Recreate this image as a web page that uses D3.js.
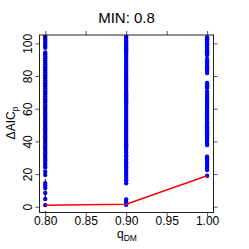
<!DOCTYPE html>
<html>
<head>
<meta charset="utf-8">
<script src="https://cdn.jsdelivr.net/npm/d3@7"></script>
<style>
  body { margin: 0; background: #fff; }
  svg text { font-family: "Liberation Sans", Arial, sans-serif; fill: #000; }
</style>
</head>
<body>
<div id="chart"></div>
<script>
// q_DM columns and the delta AIC values
const qValues = [0.80, 0.90, 1.00];

const aic080 = [1.0, 4.8, 8.4, 11.5, 13.0, 14.5, 19.5, 21.5, 24.0, 25.6, 26.8, 28.1, 29.3,
  30.6, 31.9, 33.0, 34.2, 35.5, 36.8, 38.0, 39.1, 40.4, 41.7, 42.9, 44.0, 45.3, 46.6, 47.8,
  49.0, 50.2, 51.5, 52.7, 53.9, 55.1, 56.4, 57.6, 58.8, 60.0, 61.3, 62.5, 63.8, 65.0, 66.2,
  67.4, 68.7, 69.9, 71.1, 72.4, 73.6, 74.8, 76.0, 77.3, 78.5, 79.7, 81.0, 82.2, 83.4, 84.6,
  85.9, 87.1, 88.3, 89.6, 90.8, 92.0, 93.3, 94.4, 97.3, 98.5, 99.7, 100.9, 102.1, 103.3, 104.5];

const aic090 = [1.2, 1.7, 3.1, 4.5, 14.4, 16.2, 17.6, 18.8, 20.0, 21.5, 22.8, 24.0, 25.3, 26.5,
  27.6, 29.0, 30.4, 31.6, 33.0, 34.4, 35.6, 37.0, 38.2, 39.4, 40.6, 41.8, 43.0, 44.2, 45.4,
  46.6, 47.8, 49.0, 50.2, 51.4, 52.6, 53.8, 55.0, 56.2, 57.4, 58.6, 59.8, 61.0, 62.2, 63.4,
  64.6, 65.8, 67.0, 68.2, 69.4, 70.6, 71.8, 73.0, 74.2, 75.4, 76.6, 77.8, 79.0, 80.2, 81.4,
  82.6, 83.8, 85.0, 86.2, 87.4, 88.6, 89.8, 91.0, 92.2, 93.4, 94.6, 95.8, 97.0, 98.2, 99.4,
  100.6, 101.8, 103.0, 104.2];

const aic100 = [19.0, 22.5, 23.8, 25.0, 26.3, 27.6, 28.8, 30.0, 30.6, 37.8, 39.0, 40.2, 41.4,
  42.6, 43.8, 45.0, 46.2, 47.4, 48.6, 49.8, 51.0, 52.2, 53.4, 54.6, 55.8, 57.0, 58.2, 59.4,
  60.6, 61.8, 63.0, 64.2, 65.4, 66.6, 67.8, 69.0, 70.4, 72.6, 73.8, 75.0, 75.7, 81.8, 83.0,
  84.2, 85.4, 86.7, 87.9, 89.1, 90.4, 92.8, 94.0, 95.2, 96.4, 97.7, 98.9, 100.1, 101.3,
  102.5, 103.7];

// minimum of each column, joined by the red line
const minValues = [1.0, 1.5, 19.0];

const xTicks = [0.80, 0.85, 0.90, 0.95, 1.00];
const yTicks = [0, 20, 40, 60, 80, 100];
const minLine = 0.8;

const width = 249, height = 249;
const box = { left: 39.5, right: 213.5, top: 35, bottom: 212.5 };

let svg = d3.select("#chart").append("svg")
  .attr("width", width)
  .attr("height", height);

let x = d3.scaleLinear().domain([0.7929, 1.0079]).range([box.left, box.right]);
let y = d3.scaleLinear().domain([-3.5, 105.1]).range([box.bottom, box.top]);

svg.append("clipPath").attr("id", "clip")
  .append("rect")
  .attr("x", box.left).attr("y", box.top)
  .attr("width", box.right - box.left).attr("height", box.bottom - box.top);

let plot = svg.append("g").attr("clip-path", "url(#clip)");

// points
let cols = [aic080, aic090, aic100];
let pts = [];
cols.forEach((vals, i) => vals.forEach(v => pts.push({ q: qValues[i], v: v })));

plot.selectAll("circle")
  .data(pts)
  .enter().append("circle")
  .attr("cx", d => x(d.q))
  .attr("cy", d => y(d.v))
  .attr("r", 2.2)
  .attr("fill", "#0000ff");

// dashed line at the minimum
plot.append("line")
  .attr("x1", x(minLine)).attr("x2", x(minLine))
  .attr("y1", box.top).attr("y2", box.bottom)
  .attr("stroke", "#000")
  .attr("stroke-width", 1)
  .attr("stroke-dasharray", "4,4");

// red line through the minima
plot.append("path")
  .datum(qValues.map((q, i) => [q, minValues[i]]))
  .attr("d", d3.line().x(d => x(d[0])).y(d => y(d[1])))
  .attr("fill", "none")
  .attr("stroke", "#ff0000")
  .attr("stroke-width", 1.5);

// axes, ticks on all four sides
function styleAxis(g) {
  g.select(".domain").remove();
  g.selectAll(".tick line").attr("stroke", "#555");
}

svg.append("g")
  .attr("transform", "translate(0," + box.bottom + ")")
  .call(d3.axisBottom(x).tickValues(xTicks).tickFormat(d3.format(".2f")).tickSize(4).tickSizeOuter(0))
  .call(styleAxis)
  .call(g => g.selectAll("text").attr("y", 12).attr("dy", 0).style("font-size", "12px"));

svg.append("g")
  .attr("transform", "translate(0," + box.top + ")")
  .call(d3.axisTop(x).tickValues(xTicks).tickFormat("").tickSize(4).tickSizeOuter(0))
  .call(styleAxis);

svg.append("g")
  .attr("transform", "translate(" + box.left + ",0)")
  .call(d3.axisLeft(y).tickValues(yTicks).tickSize(4).tickSizeOuter(0))
  .call(styleAxis)
  .call(g => g.selectAll("text")
    .attr("x", 0).attr("y", -8).attr("dy", 0)
    .attr("transform", "rotate(-90)")
    .attr("text-anchor", "middle")
    .style("font-size", "12px"));

svg.append("g")
  .attr("transform", "translate(" + box.right + ",0)")
  .call(d3.axisRight(y).tickValues(yTicks).tickFormat("").tickSize(4).tickSizeOuter(0))
  .call(styleAxis);

svg.selectAll(".tick text").attr("font-family", null).attr("fill", "#000");

// frame
svg.append("rect")
  .attr("x", box.left).attr("y", box.top)
  .attr("width", box.right - box.left).attr("height", box.bottom - box.top)
  .attr("fill", "none")
  .attr("stroke", "#222")
  .attr("stroke-width", 1);

// title
svg.append("text")
  .attr("x", 126.5).attr("y", 23)
  .attr("text-anchor", "middle")
  .style("font-size", "15px")
  .text("MIN: 0.8");

// x label
let xl = svg.append("text")
  .attr("x", 127).attr("y", 238)
  .attr("text-anchor", "middle")
  .style("font-size", "12px");
xl.append("tspan").text("q");
xl.append("tspan").attr("dy", 3).style("font-size", "8.5px").text("DM");

// y label
let yl = svg.append("text")
  .attr("transform", "translate(15,123) rotate(-90)")
  .attr("text-anchor", "middle")
  .style("font-size", "12px");
yl.append("tspan").text("\u0394AIC");
yl.append("tspan").attr("dy", 3).style("font-size", "8.5px").text("p");
</script>
</body>
</html>
